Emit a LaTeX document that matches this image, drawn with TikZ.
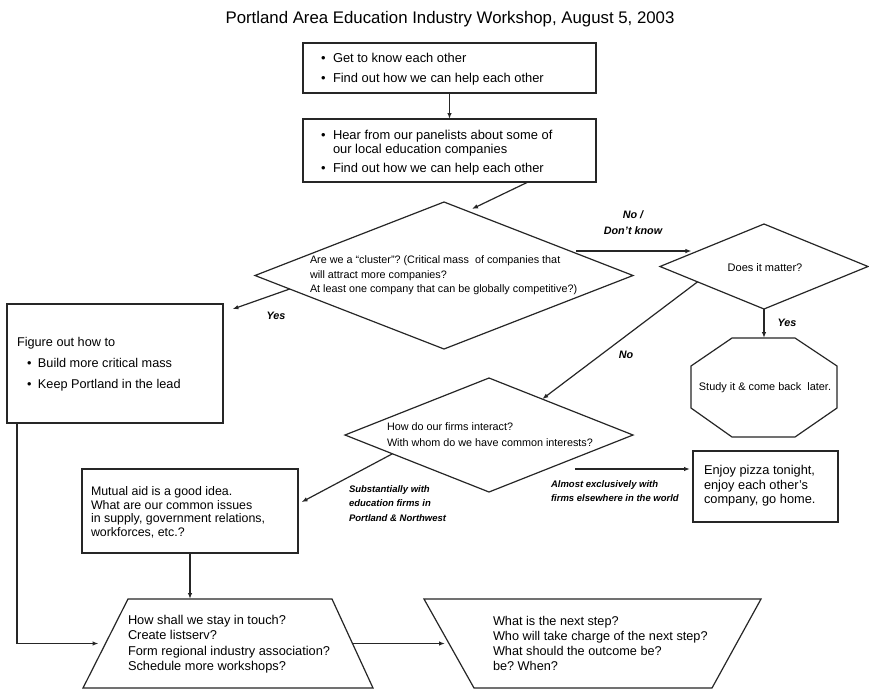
\documentclass[tikz,border=0pt]{standalone}
\usepackage{fontspec}
\setmainfont{Liberation Sans}
\usetikzlibrary{shapes.geometric,arrows.meta,calc}
\frenchspacing

% bullet followed by a fixed gap before the item text
\newcommand\bul[1][12pt]{\makebox[#1][l]{\textbullet}}

\begin{document}
% multi-line text nodes are placed by the baseline of their last line
\begin{tikzpicture}[x=1pt,y=-1pt,
  ink/.style={draw=black!85, line width=1.2pt},
  frame/.style={ink, rectangle, inner sep=0pt, outer sep=0pt},
  decision/.style={ink, diamond, inner sep=0pt, outer sep=0pt},
  ghost/.style={rectangle, inner sep=0pt, outer sep=0pt},
  txt/.style={anchor=base west, align=left, inner sep=0pt, outer sep=0pt},
  arr/.style={ink, -{Latex[length=6pt,width=4.5pt]}},
  lbl/.style={inner sep=0pt, outer sep=0pt, align=left, anchor=base west},
  small/.style={font=\fontsize{9.5}{14.6}\selectfont\bfseries\itshape},
  mid/.style={font=\fontsize{10.8}{16}\selectfont\bfseries\itshape},
]
\fill[white] (0,0) rectangle (869,689);
\useasboundingbox (0,0) rectangle (869,689);

% title
\node[anchor=base, inner sep=0pt, font=\fontsize{16.8}{20}\selectfont] (title) at (450,23)
  {Portland Area Education Industry Workshop, August 5, 2003};

% opening steps
\node[frame, minimum width=293pt, minimum height=50pt] (b1) at (449.5,68) {};
\node[txt, font=\fontsize{12.9}{14}\selectfont] (b1t) at (321,82.5)
  {\bul Get to know each other\\[6pt]\bul Find out how we can help each other};

\node[frame, minimum width=293pt, minimum height=63pt] (b2) at (449.5,150.5) {};
\node[txt, font=\fontsize{12.9}{14}\selectfont] (b2t) at (321,172.5)
  {\bul Hear from our panelists about some of\\
   \hspace*{12pt}our local education companies\\[5pt]
   \bul Find out how we can help each other};

% cluster question
\node[decision, minimum width=378pt, minimum height=147pt] (d1) at (444,275.5) {};
\node[txt, font=\fontsize{10.8}{14.5}\selectfont] (d1t) at (310,292.8)
  {Are we a ``cluster''? (Critical mass~ of companies that\\
   will attract more companies?\\
   At least one company that can be globally competitive?)};

% does it matter
\node[decision, minimum width=208pt, minimum height=85pt] (d2) at (764,266.5) {};
\node[anchor=base, inner sep=0pt, font=\fontsize{11}{14}\selectfont] (d2t) at (765,271.9)
  {Does it matter?};

% study it later (octagon)
\node[ghost, minimum width=146pt, minimum height=99pt] (oct) at (764,387.5) {};
\draw[ink] ($(oct.north west)+(41,0)$) -- ($(oct.north east)+(-42,0)$)
  -- ($(oct.north east)+(0,28)$) -- ($(oct.south east)+(0,-29)$)
  -- ($(oct.south east)+(-42,0)$) -- ($(oct.south west)+(41,0)$)
  -- ($(oct.south west)+(0,-29)$) -- ($(oct.north west)+(0,28)$) -- cycle;
\node[anchor=base, inner sep=0pt, font=\fontsize{10.9}{14}\selectfont] (octt) at (765,390.8)
  {Study it \& come back~ later.};

% figure out how to
\node[frame, minimum width=216pt, minimum height=119pt] (fig) at (115,363.5) {};
\node[txt, font=\fontsize{12.7}{14}\selectfont] (figt) at (17,388.5)
  {Figure out how to\\[7pt]
   \hspace*{10pt}\bul[11pt]Build more critical mass\\[7pt]
   \hspace*{10pt}\bul[11pt]Keep Portland in the lead};

% firm interaction question
\node[decision, minimum width=288pt, minimum height=114pt] (d3) at (489,435) {};
\node[txt, font=\fontsize{10.8}{16}\selectfont] (d3t) at (387,446.8)
  {How do our firms interact?\\With whom do we have common interests?};

% mutual aid
\node[frame, minimum width=216pt, minimum height=84pt] (mutual) at (190,511) {};
\node[txt, font=\fontsize{12.4}{13.7}\selectfont] (mutualt) at (91,536.4)
  {Mutual aid is a good idea.\\
   What are our common issues\\
   in supply, government relations,\\
   workforces, etc.?};

% pizza
\node[frame, minimum width=145pt, minimum height=71pt] (enjoy) at (765.5,486.5) {};
\node[txt, font=\fontsize{12.8}{14.5}\selectfont] (enjoyt) at (704,503.5)
  {Enjoy pizza tonight,\\enjoy each other's\\company, go home.};

% staying in touch (trapezoid)
\node[ghost, minimum width=290pt, minimum height=89pt] (t1) at (228,643.5) {};
\draw[ink] ($(t1.north west)+(45,0)$) -- ($(t1.north east)+(-41,0)$)
  -- (t1.south east) -- (t1.south west) -- cycle;
\node[txt, font=\fontsize{12.8}{15.3}\selectfont] (t1t) at (128,670.4)
  {How shall we stay in touch?\\
   Create listserv?\\
   Form regional industry association?\\
   Schedule more workshops?};

% next step (inverted trapezoid)
\node[ghost, minimum width=337pt, minimum height=89pt] (t2) at (592.5,643.5) {};
\draw[ink] (t2.north west) -- (t2.north east)
  -- ($(t2.south east)+(-49,0)$) -- ($(t2.south west)+(50,0)$) -- cycle;
\node[txt, font=\fontsize{12.7}{15}\selectfont] (t2t) at (493,670.5)
  {What is the next step?\\
   Who will take charge of the next step?\\
   What should the outcome be?\\
   be? When?};

% connectors
\draw[arr] (b1.south) -- (b2.north);
\draw[arr, shorten >=5pt] ($(b2.south east)!0.232!(b2.south west)$) -- (d1.70);
\draw[arr, shorten >=10pt] (d1.185) -- ($(fig.north east)+(0,8.5)$);
\draw[arr, shorten <=6pt, shorten >=8pt] (d1.11) -- (d1.11 -| d2.166);
\draw[arr] (d2.193) -- (d3.34);
\draw[arr] (d2.south) -- (d2.south |- oct.north);
\coordinate (almost) at (575,469);
\draw[arr, shorten >=3pt] (almost) -- (almost -| enjoy.west);
\draw[arr, shorten >=4pt] (d3.191) -- ($(mutual.east)+(0,-7)$);
\draw[arr] (mutual.south) -- (mutual.south |- t1.north);
\draw[arr, shorten >=7pt] ($(fig.south west)+(10,0)$) |- ($(t1.west)+(22.5,0)$);
\draw[arr, shorten >=4pt] ($(t1.east)+(-20.5,0)$) -- ($(t2.west)+(25,0)$);

% branch labels
\node[anchor=base, align=center, inner sep=0pt, mid] (lnodk) at (633,234.8) {No /\\Don't know};
\node[anchor=base, inner sep=0pt, mid] (lyes1) at (276,319.8) {Yes};
\node[anchor=base, inner sep=0pt, mid] (lno) at (626,358.8) {No};
\node[anchor=base, inner sep=0pt, mid] (lyes2) at (787,326.8) {Yes};
\node[lbl, small] (lsub) at (349,521.5)
  {Substantially with\\education firms in\\Portland \& Northwest};
\node[lbl, small] (lalm) at (551,501.9)
  {Almost exclusively with\\firms elsewhere in the world};
\end{tikzpicture}
\end{document}
